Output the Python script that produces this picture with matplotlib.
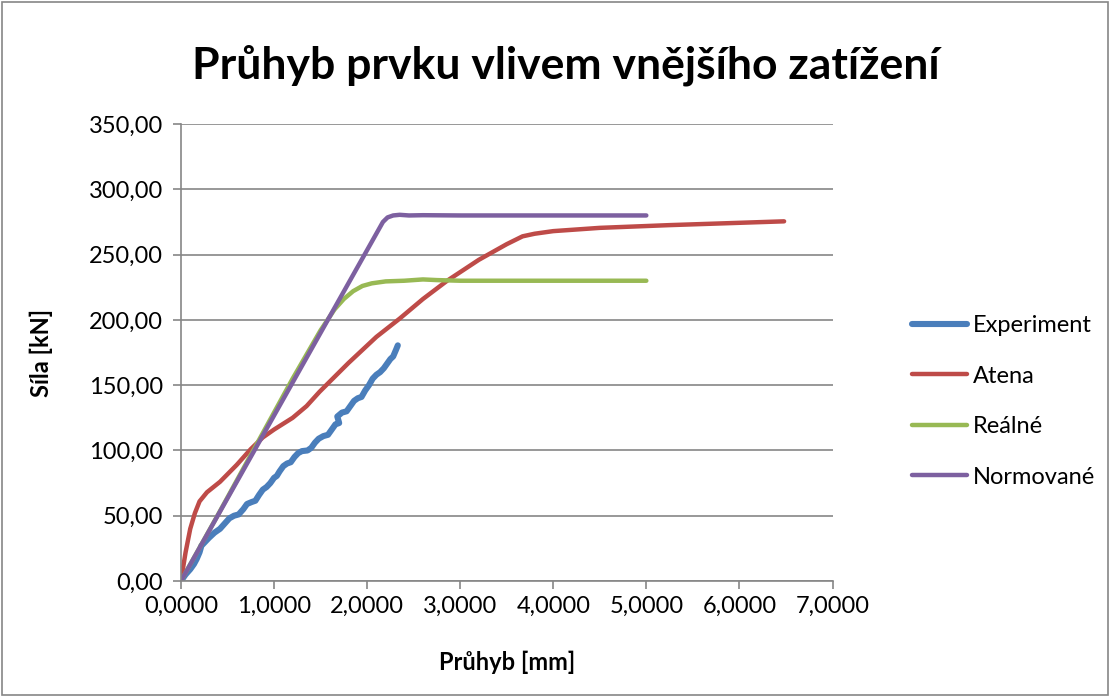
import matplotlib.pyplot as plt
from matplotlib.patches import Rectangle
from matplotlib.ticker import FuncFormatter

plt.rcParams['font.family'] = ['Lato', 'DejaVu Sans']

# Experiment
exp_x = [0.0, 0.05, 0.1, 0.14, 0.17, 0.2, 0.22, 0.26, 0.3, 0.36, 0.42, 0.47, 0.52,
         0.57, 0.62, 0.67, 0.71, 0.76, 0.8, 0.84, 0.88, 0.92, 0.96, 1.0, 1.03,
         1.06, 1.1, 1.14, 1.18, 1.22, 1.26, 1.3, 1.36, 1.4, 1.44, 1.48, 1.53,
         1.58, 1.62, 1.66, 1.7, 1.68, 1.73, 1.78, 1.82, 1.86, 1.9, 1.94, 1.98,
         2.02, 2.06, 2.1, 2.14, 2.18, 2.22, 2.25, 2.28, 2.31, 2.33]
exp_y = [0.0, 5.0, 9.0, 13.0, 17.0, 22.0, 27.0, 30.0, 33.0, 37.0, 40.0, 44.0, 48.0,
         50.0, 51.0, 55.0, 59.0, 60.5, 61.5, 66.0, 70.0, 72.0, 75.0, 79.0, 80.5,
         84.0, 88.0, 90.0, 91.0, 95.0, 98.0, 99.5, 100.0, 102.0, 106.0, 109.0, 111.0,
         112.0, 116.0, 120.0, 121.0, 126.0, 129.0, 130.0, 134.0, 138.0, 140.0, 141.0, 146.0,
         150.0, 155.0, 158.0, 160.0, 163.0, 167.0, 170.0, 172.0, 177.0, 180.5]

# Atena
atena_x = [0.0, 0.05, 0.1, 0.15, 0.2, 0.28, 0.42, 0.6, 0.75, 0.88, 1.0, 1.2, 1.35, 1.49, 1.8, 2.1,
           2.35, 2.6, 2.86, 3.2, 3.5, 3.67, 3.8, 4.0, 4.5, 5.25, 6.48]
atena_y = [0.0, 22.0, 40.0, 52.0, 61.0, 68.0, 76.0, 89.0, 101.0, 110.0, 116.0, 125.0, 134.0, 145.0, 167.0, 187.0,
           201.0, 216.0, 230.0, 246.0, 258.0, 264.0, 266.0, 268.0, 270.5, 272.6, 275.5]

# Reálné
real_x = [0.0, 0.4, 0.8, 1.2, 1.5, 1.65, 1.75, 1.85, 1.95, 2.05, 2.2, 2.4, 2.6, 2.75, 3.0, 4.0, 5.0]
real_y = [0.0, 51.0, 103.0, 155.0, 192.0, 208.0, 216.0, 222.0, 226.0, 228.0, 229.5, 230.0, 231.0, 230.5, 230.0, 230.0, 230.0]

# Normované
norm_x = [0.0, 2.17, 2.22, 2.28, 2.35, 2.45, 2.6, 3.0, 4.0, 5.0]
norm_y = [0.0, 275.0, 278.5, 280.0, 280.5, 280.0, 280.2, 280.0, 280.0, 280.0]

y_ticks = [0, 50, 100, 150, 200, 250, 300, 350]
x_ticks = [0, 1, 2, 3, 4, 5, 6, 7]

fig = plt.figure(figsize=(11.1, 6.97), dpi=100)
ax = fig.add_axes([0.163, 0.1664, 0.587, 0.6556])

ax.plot(exp_x, exp_y, color='#4a7ebb', lw=4.4, solid_capstyle='round',
        solid_joinstyle='round', label='Experiment')
ax.plot(atena_x, atena_y, color='#be4b48', lw=3.2, solid_capstyle='round', label='Atena')
ax.plot(real_x, real_y, color='#98b954', lw=3.2, solid_capstyle='round', label='Reálné')
ax.plot(norm_x, norm_y, color='#7d60a0', lw=3.2, solid_capstyle='round', label='Normované')

ax.set_xlim(0, 7)
ax.set_ylim(0, 350)
ax.set_xticks(x_ticks)
ax.set_yticks(y_ticks)
ax.xaxis.set_major_formatter(FuncFormatter(lambda v, p: f'{v:.4f}'.replace('.', ',')))
ax.yaxis.set_major_formatter(FuncFormatter(lambda v, p: f'{v:.2f}'.replace('.', ',')))
ax.tick_params(axis='both', labelsize=17, color='#868686', length=6, width=1.2)
ax.tick_params(axis='x', pad=5)
ax.tick_params(axis='y', pad=7)

ax.grid(axis='y', color='#868686', lw=1.2)
ax.set_axisbelow(True)
for s in ['top', 'right']:
    ax.spines[s].set_visible(False)
for s in ['left', 'bottom']:
    ax.spines[s].set_color('#868686')
    ax.spines[s].set_linewidth(1.2)

ax.set_xlabel('Průhyb [mm]', fontsize=17, fontweight='bold', labelpad=24)
ax.set_ylabel('Síla [kN]', fontsize=17, fontweight='bold', labelpad=26)

fig.text(0.51, 0.907, 'Průhyb prvku vlivem vnějšího zatížení', ha='center', va='center',
         fontsize=32, fontweight='bold')

ax.legend(loc='center left', bbox_to_anchor=(1.09, 0.393), frameon=False, fontsize=17,
          handlelength=2.3, handletextpad=0.25, labelspacing=1.25)

fig.patches.append(Rectangle((0.002, 0.003), 0.996, 0.994, transform=fig.transFigure,
                             fill=False, edgecolor='#868686', lw=1.2))

fig.savefig('out.png', dpi=100)
